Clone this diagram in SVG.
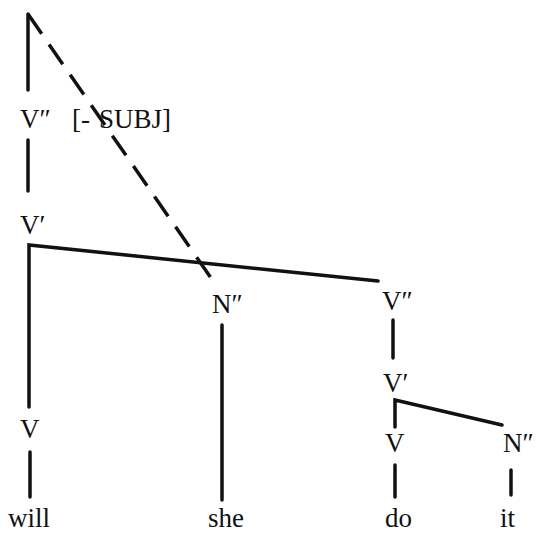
<svg xmlns="http://www.w3.org/2000/svg" width="541" height="533" viewBox="0 0 541 533">
<style>
text{font-family:"Liberation Serif","Times New Roman",serif;font-size:27px;fill:#111}
.e{stroke:#111;stroke-width:3.5;fill:none;stroke-linecap:round;stroke-linejoin:miter}
.d{stroke-dasharray:24 13;stroke-linecap:butt}
</style>
<rect width="541" height="533" fill="#fff"/>
<g id="connectors">
<path class="e" d="M28,14 L28,90"/>
<path class="e d" d="M28,14 L211,278"/>
<path class="e" d="M28,140 L28,191"/>
<path class="e" d="M29,407 L29,245 L378,281"/>
<path class="e" d="M222,325 L222,500"/>
<path class="e" d="M393,320 L393,358"/>
<path class="e" d="M395,427 L395,400 L502,425"/>
<path class="e" d="M30,452 L30,497"/>
<path class="e" d="M395,465 L395,497"/>
<path class="e" d="M511,470 L511,495"/>
</g>
<g id="vpp-top"><text y="128"><tspan x="20">V″ </tspan><tspan x="72">[- </tspan><tspan x="99">SUBJ]</tspan></text></g>
<g id="vp-left"><text x="20" y="234">V′</text></g>
<g id="np-she"><text x="212" y="313">N″</text></g>
<g id="vpp-right"><text x="382" y="310">V″</text></g>
<g id="vp-right"><text x="383" y="392">V′</text></g>
<g id="v-will"><text x="20" y="438">V</text></g>
<g id="v-do"><text x="385" y="452">V</text></g>
<g id="np-it"><text x="503" y="452">N″</text></g>
<g id="w-will"><text x="8" y="527">will</text></g>
<g id="w-she"><text x="208" y="527">she</text></g>
<g id="w-do"><text x="385" y="527">do</text></g>
<g id="w-it"><text x="500" y="527">it</text></g>
</svg>
